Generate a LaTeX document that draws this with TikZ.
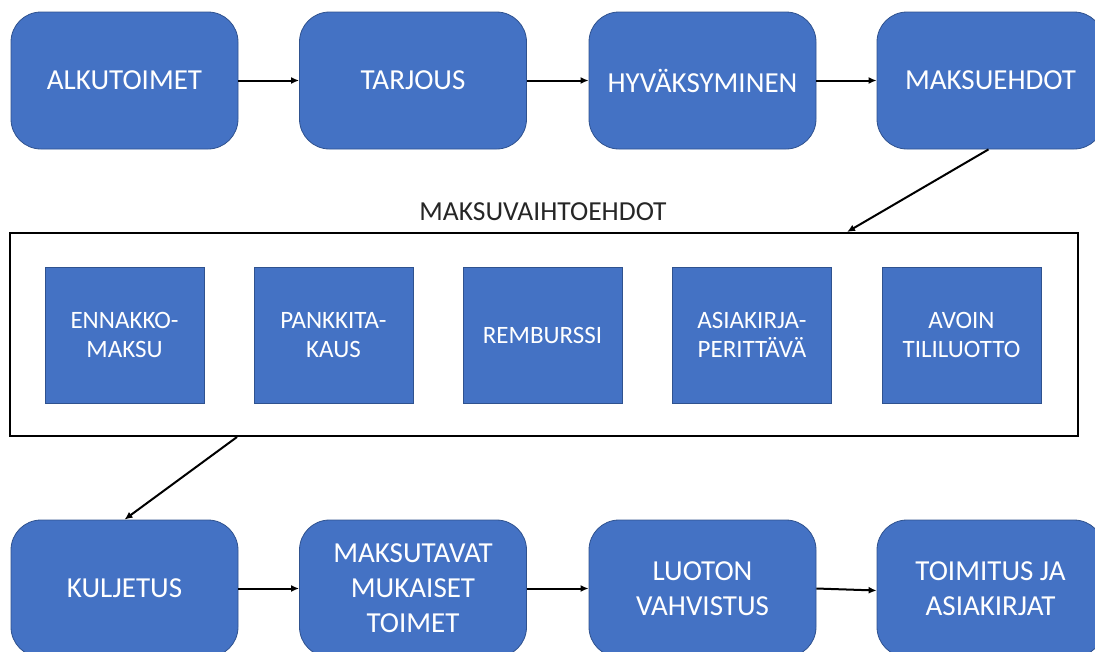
\documentclass[tikz,border=0pt]{standalone}
\usepackage{fontspec}
\setmainfont{Carlito}
\usetikzlibrary{arrows.meta}
\definecolor{boxblue}{HTML}{4472C4}
\definecolor{boxedge}{HTML}{2F528F}
\definecolor{labelgray}{HTML}{262626}
\tikzset{
  stepbox/.style={draw=boxedge,line width=0.8pt,fill=boxblue,rounded corners=30pt,
    minimum width=227pt,minimum height=137pt,text=white,align=center,
    font=\fontsize{29}{35}\selectfont,inner sep=0pt},
  optbox/.style={draw=boxedge,line width=0.8pt,fill=boxblue,
    minimum width=159pt,minimum height=136pt,text=white,align=center,
    font=\fontsize{25}{29}\selectfont,inner sep=0pt},
  frame/.style={draw=black,line width=2pt,minimum width=1068pt,minimum height=203pt,inner sep=0pt},
  flow/.style={draw=black,line width=2pt,-{Latex[length=8pt,width=7pt]}}
}
\begin{document}
\begin{tikzpicture}[x=1pt,y=-1pt]
\useasboundingbox (0,0) rectangle (1095,651);
\clip (0,0) rectangle (1095,651);
% top row
\node[stepbox] (a1) at (124.5,80.5) {ALKUTOIMET};
\node[stepbox] (a2) at (413,80.5) {TARJOUS};
\node[stepbox] (a3) at (702.5,80.5) {HYVÄKSYMINEN};
\node[stepbox] (a4) at (990.5,80.5) {MAKSUEHDOT};
% options frame
\node[frame] (opts) at (544,334.5) {};
\node[text=labelgray,font=\fontsize{27.5}{30}\selectfont] (optlabel) at (543,212) {MAKSUVAIHTOEHDOT};
\node[optbox] (o1) at (124.5,335) {ENNAKKO-\\MAKSU};
\node[optbox] (o2) at (333.5,335) {PANKKITA-\\KAUS};
\node[optbox] (o3) at (542.5,335) {REMBURSSI};
\node[optbox] (o4) at (752,335) {ASIAKIRJA-\\PERITTÄVÄ};
\node[optbox] (o5) at (961.5,335) {AVOIN\\TILILUOTTO};
% bottom row
\node[stepbox] (b1) at (124.5,588.5) {KULJETUS};
\node[stepbox] (b2) at (413,588.5) {MAKSUTAVAT\\MUKAISET\\TOIMET};
\node[stepbox] (b3) at (702.5,588.5) {LUOTON\\VAHVISTUS};
\node[stepbox] (b4) at (990.5,588.5) {TOIMITUS JA\\ASIAKIRJAT};
% connectors
\draw[flow] (a1) -- (a2);
\draw[flow] (a2) -- (a3);
\draw[flow] (a3) -- (a4);
\draw[flow] ([xshift=-2pt]a4.south) -- ([xshift=303pt]opts.north);
\draw[flow] ([xshift=-307pt]opts.south) -- (b1.north);
\draw[flow] (b1) -- (b2);
\draw[flow] (b2) -- (b3);
\draw[flow] (b3.east) -- ([yshift=-2pt]b4.west);
\end{tikzpicture}
\end{document}
